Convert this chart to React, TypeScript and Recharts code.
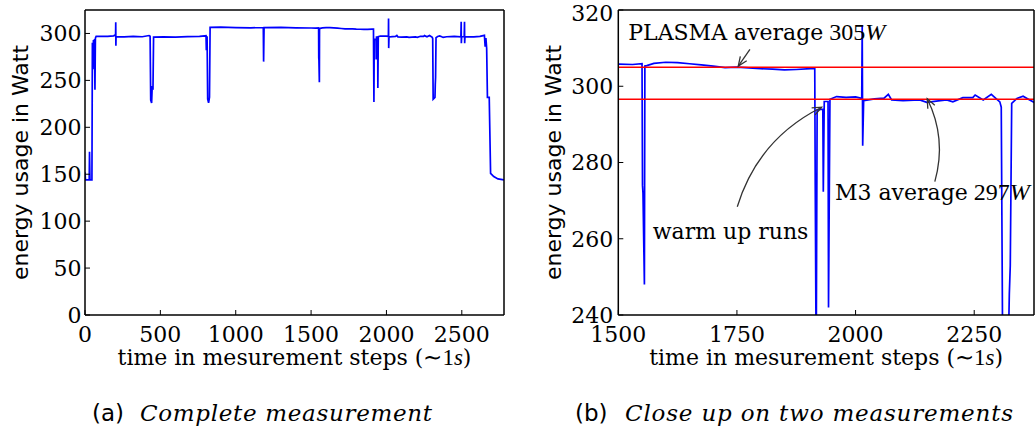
import React from "react";
import { LineChart, Line, XAxis, YAxis, ReferenceLine, ReferenceDot } from "recharts";

const steps = [
  0, 3, 28, 30, 33, 46, 49, 53, 56, 60, 63, 66, 69, 74, 100, 150, 190, 203, 204, 205,
  206, 260, 320, 380, 425, 432, 436, 442, 446, 451, 455, 520, 600, 680, 760, 803, 805, 810, 814, 820,
  826, 830, 900, 1000, 1100, 1183, 1185, 1188, 1300, 1400, 1500, 1530, 1550, 1551, 1552, 1555, 1556, 1560, 1575, 1600,
  1625, 1650, 1675, 1700, 1725, 1750, 1775, 1800, 1825, 1850, 1875, 1905, 1914, 1915, 1917, 1919, 1931, 1932, 1934, 1942,
  1943, 1946, 1960, 1980, 2000, 2013, 2014, 2015, 2017, 2040, 2060, 2069, 2076, 2100, 2135, 2150, 2170, 2192, 2205, 2226,
  2247, 2252, 2269, 2286, 2304, 2307, 2310, 2322, 2324, 2326, 2329, 2340, 2353, 2367, 2376, 2400, 2450, 2494, 2496, 2497,
  2499, 2516, 2518, 2519, 2521, 2580, 2620, 2650, 2655, 2660, 2665, 2670, 2682, 2691, 2712, 2740, 2780,
];
const watts = [
  152, 144, 144, 174, 144, 144, 290, 262, 293, 270, 294, 240, 295, 297, 297, 296.8, 297.5, 298.5, 312, 287,
  296.5, 296.3, 296.8, 296.5, 297.8, 297, 229, 226, 244, 240, 296.2, 296.4, 296, 296.6, 296.8, 297.5, 282, 297, 230, 226,
  232, 306.5, 306.8, 306.3, 306, 306.3, 270, 306.2, 306.4, 306, 305.8, 305.7, 305.9, 274, 272, 248, 305.3, 305.4, 306, 306.3,
  306.2, 305.9, 305.6, 305.3, 304.9, 305, 304.8, 304.6, 304.5, 304.3, 304.4, 304.6, 304.6, 274, 227, 293.8, 294, 272.3, 296, 296,
  242, 296.6, 297.3, 297.1, 297.2, 296.8, 316, 284.4, 296.2, 296.7, 296.9, 297.9, 296.4, 296.2, 296.4, 295.8, 296.1, 296.4, 295.9, 297,
  297, 297.7, 296.4, 297.9, 295.9, 294.5, 230, 232, 245.5, 253, 295.5, 296.8, 297.4, 296.4, 295.8, 296.5, 296.8, 296.5, 312.5, 289.5,
  296.5, 296.6, 312.5, 289.5, 296.5, 296.4, 296.9, 298, 286, 295, 284, 232, 232, 151, 147.5, 145, 144,
];

const fullXTicks = [0, 500, 1000, 1500, 2000, 2500];
const fullYTicks = [0, 50, 100, 150, 200, 250, 300];
const zoomXTicks = [1500, 1750, 2000, 2250];
const zoomYTicks = [240, 260, 280, 300, 320];

const plasmaAvg = 305;
const m3Avg = 296.6;

const data = steps.map((s, i) => ({ step: s, watt: watts[i] }));

const serif = "'DejaVu Serif', serif";
const sans = "'DejaVu Sans', sans-serif";
const math = "'Liberation Serif', serif";
const tickStyle = { fontFamily: serif, fontSize: 22, fill: "#000" };
const frame = { stroke: "#000", strokeWidth: 1.5 };

const xTitle = (props: any) => {
  const { x, y, width } = props.viewBox;
  return (
    <text x={x + width / 2} y={y + 50} textAnchor="middle" fontFamily={serif} fontSize={22} fill="#000">
      time in mesurement steps (<tspan fontFamily={math} fontSize={23}>∼1</tspan>
      <tspan fontFamily={math} fontSize={23} fontStyle="italic">s</tspan>)
    </text>
  );
};

const yTitle = (cx: number) => (props: any) => {
  const { y, height } = props.viewBox;
  const cy = y + height / 2;
  return (
    <text
      x={cx}
      y={cy}
      transform={`rotate(-90 ${cx} ${cy})`}
      textAnchor="middle"
      dominantBaseline="central"
      fontFamily={sans}
      fontSize={22}
      fill="#000"
    >
      energy usage in Watt
    </text>
  );
};

// curved "->" arrow, bend is the control point offset in px
const arrow = (bend: number) => (p: any) => {
  const { x1, y1, x2, y2 } = p;
  const dx = x2 - x1;
  const dy = y2 - y1;
  const len = Math.hypot(dx, dy) || 1;
  const cx = (x1 + x2) / 2 + (-dy / len) * bend;
  const cy = (y1 + y2) / 2 + (dx / len) * bend;
  const tl = Math.hypot(x2 - cx, y2 - cy) || 1;
  const bx = -(x2 - cx) / tl;
  const by = -(y2 - cy) / tl;
  const h = 10;
  const a = 0.4;
  const ax = x2 + h * (bx * Math.cos(a) - by * Math.sin(a));
  const ay = y2 + h * (bx * Math.sin(a) + by * Math.cos(a));
  const cx2 = x2 + h * (bx * Math.cos(-a) - by * Math.sin(-a));
  const cy2 = y2 + h * (bx * Math.sin(-a) + by * Math.cos(-a));
  return (
    <g fill="none" stroke="#333" strokeWidth={1.3}>
      <path d={`M${x1},${y1} Q${cx},${cy} ${x2},${y2}`} />
      <path d={`M${ax},${ay} L${x2},${y2} L${cx2},${cy2}`} />
    </g>
  );
};

const note = (label: string, value?: string) => (p: any) => (
  <text x={p.cx} y={p.cy} fontFamily={serif} fontSize={22} fill="#000">
    {label}
    {value && (
      <>
        <tspan fontFamily={math} fontSize={24}> {value}</tspan>
        <tspan fontFamily={math} fontSize={24} fontStyle="italic">W</tspan>
      </>
    )}
  </text>
);

interface PanelProps {
  width: number;
  yAxisWidth: number;
  marginRight: number;
  xDomain: [number, number];
  yDomain: [number, number];
  xTicks: number[];
  yTicks: number[];
  yTitleX: number;
  yTickMargin: number;
  children?: React.ReactNode;
}

function Panel(p: PanelProps) {
  return (
    <LineChart width={p.width} height={380} data={data} margin={{ top: 9, right: p.marginRight, bottom: 0, left: 0 }}>
      <XAxis
        dataKey="step"
        type="number"
        domain={p.xDomain}
        ticks={p.xTicks}
        allowDataOverflow
        height={65}
        tickSize={-5}
        tickMargin={16}
        tick={tickStyle}
        axisLine={frame}
        tickLine={{ stroke: "#000" }}
        label={{ content: xTitle }}
      />
      <XAxis
        xAxisId="top"
        orientation="top"
        type="number"
        domain={p.xDomain}
        ticks={p.xTicks}
        allowDataOverflow
        height={1}
        tickSize={-5}
        tick={false}
        axisLine={frame}
        tickLine={{ stroke: "#000" }}
      />
      <YAxis
        type="number"
        domain={p.yDomain}
        ticks={p.yTicks}
        allowDataOverflow
        width={p.yAxisWidth}
        tickSize={-5}
        tickMargin={p.yTickMargin}
        tick={tickStyle}
        axisLine={frame}
        tickLine={{ stroke: "#000" }}
        label={{ content: yTitle(p.yTitleX) }}
      />
      <YAxis
        yAxisId="right"
        orientation="right"
        type="number"
        domain={p.yDomain}
        ticks={p.yTicks}
        allowDataOverflow
        width={1}
        tickSize={-5}
        tick={false}
        axisLine={frame}
        tickLine={{ stroke: "#000" }}
      />
      <Line
        type="linear"
        dataKey="watt"
        stroke="#0000ff"
        strokeWidth={1.7}
        dot={false}
        activeDot={false}
        isAnimationActive={false}
      />
      {p.children}
    </LineChart>
  );
}

export default function App() {
  return (
    <div style={{ position: "absolute", left: 0, top: 0, width: 1035, height: 432, background: "#fff", overflow: "hidden" }}>
      <div style={{ position: "absolute", left: 0, top: 0 }}>
        <Panel
          width={520}
          yAxisWidth={85}
          marginRight={15}
          xDomain={[0, 2780]}
          yDomain={[0, 325]}
          xTicks={fullXTicks}
          yTicks={fullYTicks}
          yTitleX={20}
          yTickMargin={8.5}
        />
      </div>
      <div style={{ position: "absolute", left: 520, top: 0 }}>
        <Panel
          width={515}
          yAxisWidth={98.3}
          marginRight={0}
          xDomain={[1500, 2376]}
          yDomain={[240, 320]}
          xTicks={zoomXTicks}
          yTicks={zoomYTicks}
          yTitleX={33.3}
          yTickMargin={10}
        >
          <ReferenceLine y={plasmaAvg} stroke="#ff0000" strokeWidth={1.6} />
          <ReferenceLine y={m3Avg} stroke="#ff0000" strokeWidth={1.6} />
          <ReferenceDot x={1521} y={312.1} ifOverflow="visible" shape={note("PLASMA average", "305")} />
          <ReferenceDot x={1956.5} y={270.2} ifOverflow="visible" shape={note("M3 average", "297")} />
          <ReferenceDot x={1572.5} y={260} ifOverflow="visible" shape={note("warm up runs")} />
          <ReferenceLine
            segment={[{ x: 1777.4, y: 309.7 }, { x: 1752.8, y: 305.3 }]}
            ifOverflow="visible"
            shape={arrow(0)}
          />
          <ReferenceLine
            segment={[{ x: 1750.7, y: 268.4 }, { x: 1928.5, y: 294.5 }]}
            ifOverflow="visible"
            shape={arrow(-28)}
          />
          <ReferenceLine
            segment={[{ x: 2167, y: 275 }, { x: 2151, y: 296.7 }]}
            ifOverflow="visible"
            shape={arrow(16)}
          />
        </Panel>
      </div>
      <svg width={1035} height={432} style={{ position: "absolute", left: 0, top: 0, pointerEvents: "none" }}>
        <text x={92} y={421} fontFamily={sans} fontSize={23} fill="#000">(a)</text>
        <text x={140} y={421} fontFamily={serif} fontStyle="italic" fontSize={23} fill="#000" textLength={292} lengthAdjust="spacing">
          Complete measurement
        </text>
        <text x={575} y={421} fontFamily={sans} fontSize={23} fill="#000">(b)</text>
        <text x={625} y={421} fontFamily={serif} fontStyle="italic" fontSize={23} fill="#000" textLength={388} lengthAdjust="spacing">
          Close up on two measurements
        </text>
      </svg>
    </div>
  );
}
